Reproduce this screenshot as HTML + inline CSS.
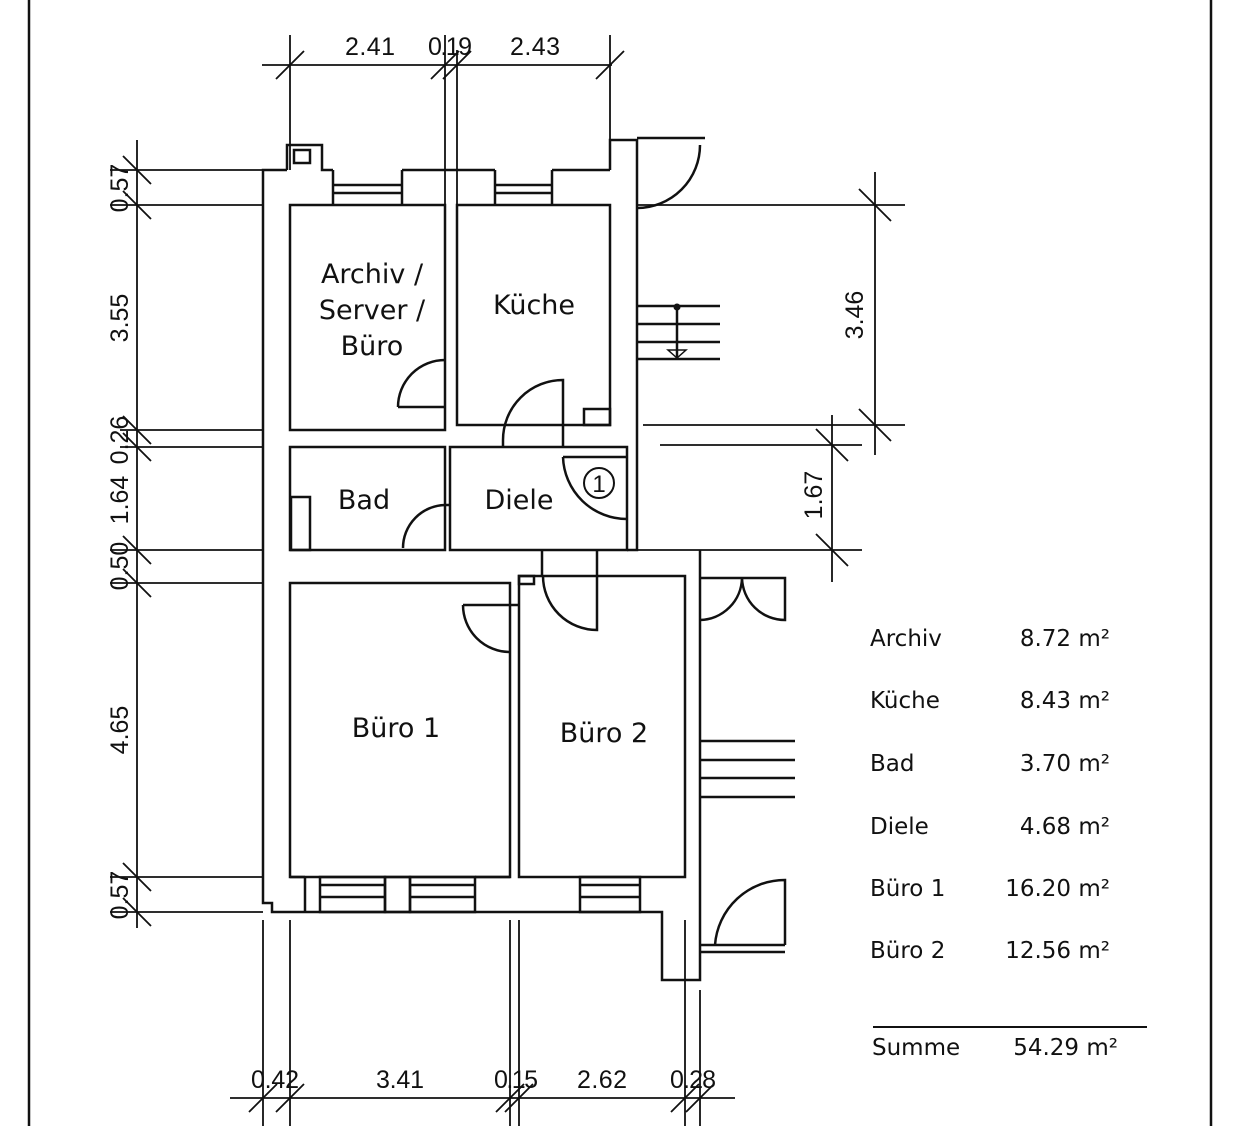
<!DOCTYPE html>
<html><head><meta charset="utf-8"><style>
html,body{margin:0;padding:0;background:#fff;}
svg{display:block;}
.d{font-family:"Liberation Sans",sans-serif;font-size:25px;fill:#111;}
.r{font-family:"DejaVu Sans","Liberation Sans",sans-serif;font-size:27px;fill:#111;}
.t{font-family:"DejaVu Sans","Liberation Sans",sans-serif;font-size:23px;fill:#111;}
</style></head><body>
<svg width="1235" height="1126" viewBox="0 0 1235 1126" xmlns="http://www.w3.org/2000/svg">
<g stroke="#111" fill="none" stroke-width="2.5">
<!-- page border -->
<line x1="29" y1="0" x2="29" y2="1126"/>
<line x1="1211" y1="0" x2="1211" y2="1126"/>
<!-- outer walls -->
<polyline points="287,170 263,170 263,903 272,903 272,912 662,912 662,980 700,980 700,550"/>
<polyline points="287,170 287,145 322,145 322,170 333,170"/>
<rect x="294" y="150" width="16" height="13"/>
<line x1="402" y1="170" x2="495" y2="170"/>
<line x1="552" y1="170" x2="610" y2="170"/>
<polyline points="610,170 610,140 637,140 637,550 627,550"/>
<!-- top windows -->
<line x1="333" y1="185" x2="402" y2="185"/><line x1="333" y1="193" x2="402" y2="193"/>
<line x1="495" y1="185" x2="552" y2="185"/><line x1="495" y1="193" x2="552" y2="193"/>
<line x1="333" y1="170" x2="333" y2="205"/><line x1="402" y1="170" x2="402" y2="205"/>
<line x1="495" y1="170" x2="495" y2="205"/><line x1="552" y1="170" x2="552" y2="205"/>
<!-- rooms -->
<rect x="290" y="205" width="155" height="225"/>
<rect x="457" y="205" width="153" height="220"/>
<rect x="584" y="409" width="26" height="16"/>
<rect x="290" y="447" width="155" height="103"/>
<rect x="291" y="497" width="19" height="53"/>
<rect x="450" y="447" width="177" height="103"/>
<rect x="290" y="583" width="220" height="294"/>
<rect x="519" y="576" width="166" height="301"/>
<rect x="519" y="576" width="15" height="8"/>
<line x1="542" y1="550" x2="542" y2="576"/>
<line x1="597" y1="550" x2="597" y2="576"/>
<!-- bottom windows -->
<g>
<rect x="320" y="877" width="65" height="35"/><rect x="385" y="877" width="25" height="35"/>
<rect x="410" y="877" width="65" height="35"/><rect x="580" y="877" width="60" height="35"/>
<line x1="320" y1="885" x2="385" y2="885"/><line x1="320" y1="897" x2="385" y2="897"/>
<line x1="410" y1="885" x2="475" y2="885"/><line x1="410" y1="897" x2="475" y2="897"/>
<line x1="580" y1="885" x2="640" y2="885"/><line x1="580" y1="897" x2="640" y2="897"/>
<line x1="290" y1="877" x2="305" y2="877"/><line x1="305" y1="877" x2="305" y2="912"/>
<line x1="475" y1="877" x2="510" y2="877"/>
</g>
<!-- doors -->
<path d="M398,407 A47,47 0 0 1 445,360 M398,407 L445,407"/>
<path d="M503,440 A60,60 0 0 1 563,380 L563,447"/><line x1="503" y1="440" x2="503" y2="447"/>
<path d="M403,548 A43,43 0 0 1 445,505 M445,505 L450,505"/>
<path d="M563,457 A64,64 0 0 0 627,519 M563,457 L627,457"/>
<circle cx="599" cy="483" r="15" stroke-width="2"/>
<path d="M463,605 A47,47 0 0 0 510,652 M463,605 L519,605"/>
<path d="M543,576 A54,54 0 0 0 597,630 L597,576"/>
<path d="M637,208 A63,63 0 0 0 700,145 M637,138 L705,138"/>
<!-- double door -->
<path d="M700,578 L785,578 L785,620 A43,43 0 0 1 742,578 A43,43 0 0 1 700,620"/>
<!-- lower door -->
<path d="M715,945 A70,70 0 0 1 785,880 L785,945 M700,945 L785,945 M700,952 L785,952"/>
<!-- stairs -->
<line x1="637" y1="306" x2="720" y2="306"/><line x1="637" y1="324" x2="720" y2="324"/>
<line x1="637" y1="342" x2="720" y2="342"/><line x1="637" y1="359" x2="720" y2="359"/>
<line x1="677" y1="306" x2="677" y2="359"/>
<path d="M668,350 L686,350 L677,358 Z" stroke-width="1.5"/>
<line x1="700" y1="741" x2="795" y2="741"/><line x1="700" y1="760" x2="795" y2="760"/>
<line x1="700" y1="778" x2="795" y2="778"/><line x1="700" y1="797" x2="795" y2="797"/>
</g>
<circle cx="677" cy="307" r="3.5" fill="#111"/>
<!-- dimensions -->
<g stroke="#111" fill="none" stroke-width="1.8">
<line x1="262" y1="65" x2="612" y2="65"/>
<line x1="290" y1="35" x2="290" y2="170"/><line x1="445" y1="35" x2="445" y2="205"/>
<line x1="457" y1="50" x2="457" y2="205"/><line x1="610" y1="35" x2="610" y2="140"/>
<path d="M276,79 L304,51 M431,79 L459,51 M443,79 L471,51 M596,79 L624,51"/>
<line x1="137" y1="140" x2="137" y2="928"/>
<g>
<line x1="110" y1="170" x2="263" y2="170"/><line x1="110" y1="205" x2="263" y2="205"/>
<line x1="120" y1="430" x2="263" y2="430"/><line x1="120" y1="447" x2="263" y2="447"/>
<line x1="110" y1="550" x2="263" y2="550"/><line x1="110" y1="583" x2="263" y2="583"/>
<line x1="110" y1="877" x2="263" y2="877"/><line x1="110" y1="912" x2="263" y2="912"/>
</g>
<path d="M123,156 L151,184 M123,191 L151,219 M123,416 L151,444 M123,433 L151,461 M123,536 L151,564 M123,569 L151,597 M123,863 L151,891 M123,898 L151,926"/>
<line x1="875" y1="172" x2="875" y2="455"/>
<line x1="637" y1="205" x2="905" y2="205"/><line x1="643" y1="425" x2="905" y2="425"/>
<line x1="660" y1="445" x2="862" y2="445"/><line x1="637" y1="550" x2="862" y2="550"/>
<path d="M859,189 L891,221 M859,409 L891,441"/>
<line x1="832" y1="415" x2="832" y2="582"/>
<path d="M816,429 L848,461 M816,534 L848,566"/>
<line x1="230" y1="1098" x2="735" y2="1098"/>
<line x1="263" y1="920" x2="263" y2="1126"/><line x1="290" y1="920" x2="290" y2="1126"/>
<line x1="510" y1="920" x2="510" y2="1126"/><line x1="519" y1="920" x2="519" y2="1126"/>
<line x1="685" y1="920" x2="685" y2="1126"/><line x1="700" y1="990" x2="700" y2="1126"/>
<path d="M249,1112 L277,1084 M276,1112 L304,1084 M496,1112 L524,1084 M505,1112 L533,1084 M671,1112 L699,1084 M686,1112 L714,1084"/>
</g>
<g class="d">
<text x="370" y="55" text-anchor="middle" textLength="50">2.41</text>
<text x="450" y="55" text-anchor="middle" textLength="44">0.19</text>
<text x="535" y="55" text-anchor="middle" textLength="50">2.43</text>
<text x="275" y="1088" text-anchor="middle" textLength="48">0.42</text>
<text x="400" y="1088" text-anchor="middle" textLength="48">3.41</text>
<text x="516" y="1088" text-anchor="middle" textLength="44">0.15</text>
<text x="602" y="1088" text-anchor="middle" textLength="50">2.62</text>
<text x="693" y="1088" text-anchor="middle" textLength="46">0.28</text>
<text transform="translate(128,188) rotate(-90)" text-anchor="middle">0.57</text>
<text transform="translate(128,318) rotate(-90)" text-anchor="middle">3.55</text>
<text transform="translate(128,440) rotate(-90)" text-anchor="middle">0.26</text>
<text transform="translate(128,500) rotate(-90)" text-anchor="middle">1.64</text>
<text transform="translate(128,566) rotate(-90)" text-anchor="middle">0.50</text>
<text transform="translate(128,730) rotate(-90)" text-anchor="middle">4.65</text>
<text transform="translate(128,895) rotate(-90)" text-anchor="middle">0.57</text>
<text transform="translate(863,315) rotate(-90)" text-anchor="middle">3.46</text>
<text transform="translate(822,495) rotate(-90)" text-anchor="middle">1.67</text>
</g>
<text x="599" y="492" text-anchor="middle" style="font-family:'Liberation Sans',sans-serif;font-size:24px" fill="#111">1</text>
<g class="r" text-anchor="middle">
<text x="372" y="283">Archiv /</text>
<text x="372" y="319">Server /</text>
<text x="372" y="355">Büro</text>
<text x="534" y="314">Küche</text>
<text x="364" y="509">Bad</text>
<text x="519" y="509">Diele</text>
<text x="396" y="737">Büro 1</text>
<text x="604" y="742">Büro 2</text>
</g>
<g class="t">
<text x="870" y="646">Archiv</text><text x="1110" y="646" text-anchor="end">8.72 m²</text>
<text x="870" y="708">Küche</text><text x="1110" y="708" text-anchor="end">8.43 m²</text>
<text x="870" y="771">Bad</text><text x="1110" y="771" text-anchor="end">3.70 m²</text>
<text x="870" y="834">Diele</text><text x="1110" y="834" text-anchor="end">4.68 m²</text>
<text x="870" y="896">Büro 1</text><text x="1110" y="896" text-anchor="end">16.20 m²</text>
<text x="870" y="958">Büro 2</text><text x="1110" y="958" text-anchor="end">12.56 m²</text>
<text x="872" y="1055">Summe</text><text x="1118" y="1055" text-anchor="end">54.29 m²</text>
</g>
<line x1="873" y1="1027" x2="1147" y2="1027" stroke="#111" stroke-width="2"/>
</svg>
</body></html>
